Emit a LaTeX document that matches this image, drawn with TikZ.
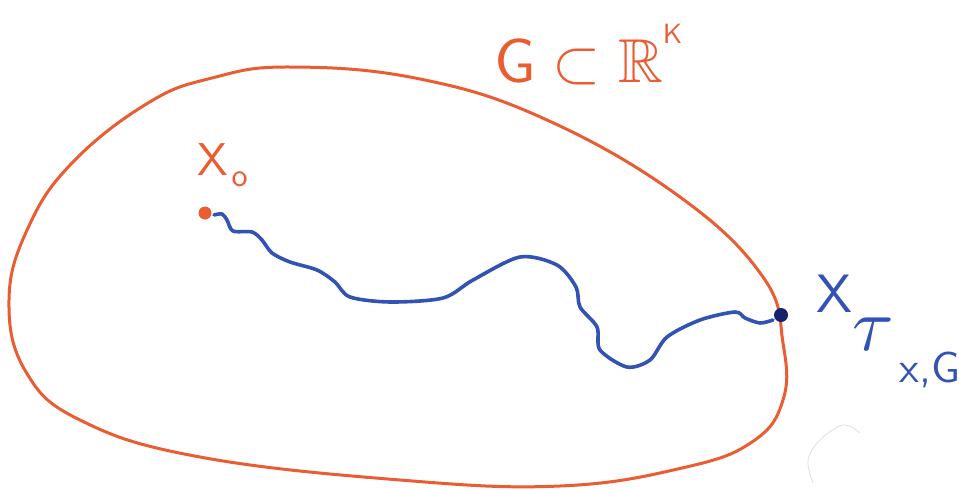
\documentclass[tikz,border=0pt]{standalone}
\usepackage{amssymb}
\usepackage{graphicx}
\definecolor{penorange}{RGB}{234,92,50}
\definecolor{penblue}{RGB}{50,82,180}
\definecolor{pendark}{RGB}{22,34,110}
\tikzset{
  region/.style={draw=penorange, line width=3pt, line join=round},
  walk/.style={draw=penblue, line width=3.6pt, line cap=round, line join=round},
  lbl/.style={inner sep=0pt, anchor=base west},
}
\begin{document}
\begin{tikzpicture}[x=1pt,y=-1pt]
\useasboundingbox (0,0) rectangle (959,490);
% domain G
\draw[region] plot[smooth cycle, tension=0.7] coordinates {
 (290,67) (420,79) (547,120) (680,197) (763,277) (783,343) (783,400)
 (752,442) (682,468) (560,486) (400,480) (200,457) (82,421) (26,372)
 (9,300) (28,228) (72,163) (148,103) (212,78)};
% random path
\draw[walk] plot[smooth, tension=0.5] coordinates {
 (214,215) (222,214) (227,220) (233,231) (252,232) (262,240) (272,253)
 (290,262) (317,270) (335,282) (350,297) (390,302) (443,298) (473,280)
 (520,257) (557,265) (576,287) (580,307) (597,327) (600,350) (627,367)
 (650,360) (667,337) (700,320) (735,312) (745,318) (760,323) (773,320)};
% start and exit points
\node[circle, fill=penorange, inner sep=0pt, minimum size=13pt] (x0) at (205,213) {};
\node[circle, fill=pendark, inner sep=0pt, minimum size=14pt] (xt) at (781,315) {};
% labels
\node[lbl, text=penorange] (G) at (494,82)
  {\scalebox{6.2}{$\mathsf{G}\subset\mathbb{R}$\raisebox{0.62em}{\scalebox{0.45}{\sffamily K}}}};
\node[lbl, text=penorange] (x0l) at (197,175)
  {\scalebox{4.6}{\sffamily X\hspace{0.08em}\raisebox{-0.25em}{\scalebox{0.7}{o}}}};
\node[lbl, text=penblue] (xtl) at (816,312)
  {\scalebox{5.4}{\sffamily X\raisebox{-0.72em}{\scalebox{1.4}{$\tau$}}\hspace{0.1em}\raisebox{-1.3em}{\scalebox{0.8}{x,G}}}};
% faint scan arc
\draw[gray!25, line width=0.8pt] plot[smooth, tension=0.6] coordinates {
 (860,433) (843,425) (820,440) (808,460) (813,483)};
\end{tikzpicture}
\end{document}
